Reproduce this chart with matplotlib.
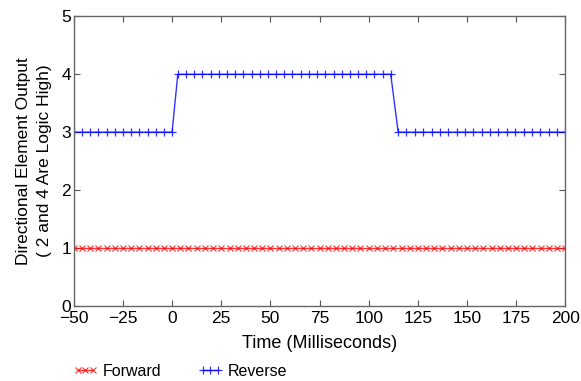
import numpy as np
import matplotlib
matplotlib.use('Agg')
import matplotlib.pyplot as plt

plt.rcParams['font.family'] = ['Liberation Sans', 'DejaVu Sans']

# forward element output, sampled every quarter cycle (ms)
fwd_t = [-50.0, -45.8, -41.7, -37.5, -33.3, -29.2, -25.0, -20.8, -16.7, -12.5,
         -8.3, -4.2, 0.0, 4.2, 8.3, 12.5, 16.7, 20.8, 25.0, 29.2,
         33.3, 37.5, 41.7, 45.8, 50.0, 54.2, 58.3, 62.5, 66.7, 70.8,
         75.0, 79.2, 83.3, 87.5, 91.7, 95.8, 100.0, 104.2, 108.3, 112.5,
         116.7, 120.8, 125.0, 129.2, 133.3, 137.5, 141.7, 145.8, 150.0, 154.2,
         158.3, 162.5, 166.7, 170.8, 175.0, 179.2, 183.3, 187.5, 191.7, 195.8,
         200.0]
fwd_v = [1] * len(fwd_t)

# reverse element output
rev_t = [-50.0, -45.8, -41.7, -37.5, -33.3, -29.2, -25.0, -20.8, -16.7, -12.5,
         -8.3, -4.2, 0.0,
         2.9, 7.1, 11.2, 15.4, 19.6, 23.7, 27.9, 32.1, 36.2, 40.4,
         44.6, 48.7, 52.9, 57.1, 61.2, 65.4, 69.6, 73.7, 77.9, 82.1,
         86.2, 90.4, 94.6, 98.7, 102.9, 107.1, 111.2,
         115.0, 119.2, 123.5, 127.8, 132.0, 136.2, 140.5, 144.8, 149.0, 153.2,
         157.5, 161.8, 166.0, 170.2, 174.5, 178.8, 183.0, 187.2, 191.5, 195.8,
         200.0]
rev_v = ([3] * 13) + ([4] * 27) + ([3] * 21)

fig = plt.figure(figsize=(5.81, 3.81), dpi=100)
ax = fig.add_axes([0.127, 0.197, 0.846, 0.760])

ax.plot(fwd_t, fwd_v, color='red', lw=1, marker='x', ms=5, mew=0.8,
        alpha=0.8, label='Forward')
ax.plot(rev_t, rev_v, color='blue', lw=1, marker='+', ms=6, mew=0.9,
        alpha=0.8, label='Reverse')

ax.set_xlim(-50, 200)
ax.set_ylim(0, 5)
ax.set_xticks([-50, -25, 0, 25, 50, 75, 100, 125, 150, 175, 200])
ax.set_xticklabels(['\u221250', '\u221225', '0', '25', '50', '75', '100',
                    '125', '150', '175', '200'])
ax.set_yticks([0, 1, 2, 3, 4, 5])
ax.tick_params(direction='in', length=4.5, width=0.8, color='#555555',
               labelsize=12.5, top=True, right=True)
ax.tick_params(axis='x', pad=4)
ax.tick_params(axis='y', pad=2)
for s in ax.spines.values():
    s.set_color('#666666')
    s.set_linewidth(1)

ax.set_xlabel('Time (Milliseconds)', fontsize=13, labelpad=6)
ax.set_ylabel('Directional Element Output\n( 2 and 4 Are Logic High)',
              fontsize=12.5, labelpad=7, linespacing=1.45)

fig.legend(loc='center left', bbox_to_anchor=(73 / 581, 1 - 371 / 381),
           ncol=2, frameon=False, fontsize=11.5, handlelength=1.55,
           handletextpad=0.3, columnspacing=2.3, borderaxespad=0,
           borderpad=0, numpoints=3)

fig.savefig('out.png', dpi=100)
